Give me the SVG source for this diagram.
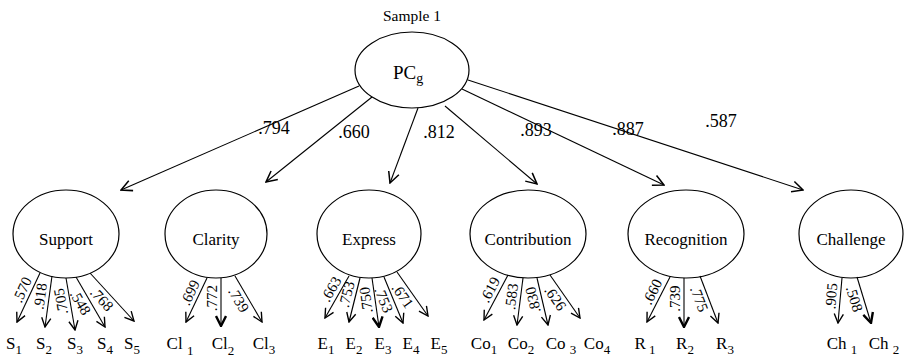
<svg xmlns="http://www.w3.org/2000/svg" width="919" height="360" viewBox="0 0 919 360" font-family="'Liberation Serif', 'Times New Roman', serif">
  <defs>
    <marker id="arr" viewBox="0 0 12 12" refX="11" refY="6" markerWidth="13" markerHeight="13" markerUnits="userSpaceOnUse" orient="auto">
      <path d="M1,1 L11,6 L1,11" fill="none" stroke="#000" stroke-width="1.4"/>
    </marker>
    <marker id="arrs" viewBox="0 0 12 12" refX="11" refY="6" markerWidth="11" markerHeight="11" markerUnits="userSpaceOnUse" orient="auto">
      <path d="M1,1 L11,6 L1,11" fill="none" stroke="#000" stroke-width="1.5"/>
    </marker>
    <marker id="arrb" viewBox="0 0 12 12" refX="11" refY="6" markerWidth="12" markerHeight="12" markerUnits="userSpaceOnUse" orient="auto">
      <path d="M1,1 L11,6 L1,11" fill="none" stroke="#000" stroke-width="2.4"/>
    </marker>
  </defs>
  <style>
    text { font-family: "Liberation Serif", "Times New Roman", serif; fill: #000; }
    .node ellipse { fill: #fff; stroke: #000; stroke-width: 1.2; }
    .name { font-size: 17px; text-anchor: middle; }
    .coef { font-size: 18px; text-anchor: middle; }
    .load { font-size: 15px; text-anchor: middle; dominant-baseline: central; }
    .ind { font-size: 17px; text-anchor: middle; }
    .sub { font-size: 13px; }
    #connectors line { stroke: #000; stroke-width: 1.1; fill: none; }
    .top { marker-end: url(#arr); }
    .low { marker-end: url(#arrs); }
    .bold { marker-end: url(#arrb); }
  </style>
  <rect width="919" height="360" fill="#fff"/>

  <text x="412" y="21" style="font-size:15.5px; text-anchor:middle">Sample 1</text>

  <!-- general factor -->
  <g id="PCg" class="node">
    <ellipse cx="412" cy="70" rx="57" ry="38"/>
    <text x="408" y="79" class="name" style="font-size:19px">PC<tspan class="sub" dy="4" style="font-size:14px">g</tspan></text>
  </g>

  <!-- first-order factors -->
  <g id="Support" class="node">
    <ellipse cx="66" cy="234" rx="53" ry="44"/>
    <text x="66" y="245" class="name">Support</text>
  </g>
  <g id="Clarity" class="node">
    <ellipse cx="216" cy="234" rx="51" ry="44"/>
    <text x="216" y="245" class="name">Clarity</text>
  </g>
  <g id="Express" class="node">
    <ellipse cx="369" cy="234" rx="52" ry="44"/>
    <text x="369" y="245" class="name">Express</text>
  </g>
  <g id="Contribution" class="node">
    <ellipse cx="528" cy="234" rx="58" ry="44"/>
    <text x="528" y="245" class="name">Contribution</text>
  </g>
  <g id="Recognition" class="node">
    <ellipse cx="686" cy="234" rx="58" ry="44"/>
    <text x="686" y="245" class="name">Recognition</text>
  </g>
  <g id="Challenge" class="node">
    <ellipse cx="851" cy="234" rx="52" ry="44"/>
    <text x="851" y="245" class="name">Challenge</text>
  </g>

  <!-- structural paths and indicator paths -->
  <g id="connectors">
    <line class="top" x1="359" y1="86" x2="121" y2="190"/>
    <line class="top" x1="372" y1="97" x2="266" y2="182"/>
    <line class="top" x1="418" y1="108" x2="390" y2="183"/>
    <line class="top" x1="445" y1="106" x2="537" y2="184"/>
    <line class="top" x1="462" y1="89" x2="664" y2="185"/>
    <line class="top" x1="468" y1="80" x2="803" y2="190"/>

    <line class="low" x1="40" y1="273" x2="17" y2="322"/>
    <line class="low" x1="52" y1="276" x2="45" y2="327"/>
    <line class="low" x1="66" y1="278" x2="75" y2="330"/>
    <line class="low" x1="76" y1="277" x2="105" y2="327"/>
    <line class="low" x1="90" y1="273" x2="134" y2="321"/>

    <line class="low" x1="207" y1="278" x2="186" y2="322"/>
    <line class="bold" x1="221" y1="278" x2="221" y2="326"/>
    <line class="low" x1="235" y1="276" x2="262" y2="322"/>

    <line class="low" x1="349" y1="276" x2="325" y2="318"/>
    <line class="low" x1="360" y1="278" x2="349" y2="322"/>
    <line class="bold" x1="372" y1="278" x2="379" y2="327"/>
    <line class="low" x1="384" y1="277" x2="403" y2="323"/>
    <line class="low" x1="397" y1="272" x2="428" y2="316"/>

    <line class="low" x1="508" y1="275" x2="484" y2="320"/>
    <line class="low" x1="523" y1="278" x2="517" y2="325"/>
    <line class="low" x1="537" y1="278" x2="548" y2="325"/>
    <line class="low" x1="550" y1="275" x2="580" y2="318"/>

    <line class="low" x1="670" y1="277" x2="647" y2="322"/>
    <line class="bold" x1="684" y1="278" x2="684" y2="327"/>
    <line class="low" x1="700" y1="276" x2="718" y2="323"/>

    <line class="low" x1="842" y1="278" x2="838" y2="323"/>
    <line class="bold" x1="857" y1="277" x2="871" y2="323"/>
  </g>

  <!-- second-order loadings -->
  <g id="coefficients">
    <text x="274" y="134" class="coef">.794</text>
    <text x="354" y="138" class="coef">.660</text>
    <text x="439" y="138" class="coef">.812</text>
    <text x="536" y="136" class="coef">.893</text>
    <text x="628" y="135" class="coef">.887</text>
    <text x="721" y="127" class="coef">.587</text>
  </g>

  <!-- first-order loadings -->
  <g id="loadings">
    <text class="load" transform="translate(22.2,289.8) rotate(-64.9)">.570</text>
    <text class="load" transform="translate(40.2,296.2) rotate(-82.2)">.918</text>
    <text class="load" transform="translate(60.9,301.3) rotate(-99.8)">.705</text>
    <text class="load" transform="translate(80.4,302.5) rotate(59.9)">.548</text>
    <text class="load" transform="translate(101.8,299.3) rotate(47.5)">.768</text>

    <text class="load" transform="translate(190.1,292.6) rotate(-64.5)">.699</text>
    <text class="load" transform="translate(212,298.2) rotate(-90)">.772</text>
    <text class="load" transform="translate(238.6,299.8) rotate(59.6)">.739</text>

    <text class="load" transform="translate(331.1,289.1) rotate(-60.3)">.663</text>
    <text class="load" transform="translate(346.7,294.3) rotate(-76)">.753</text>
    <text class="load" transform="translate(366,299.9) rotate(-98.1)">.750</text>
    <text class="load" transform="translate(383.7,299.8) rotate(67.6)">.753</text>
    <text class="load" transform="translate(402.7,295.7) rotate(54.8)">.671</text>

    <text class="load" transform="translate(489.9,289.7) rotate(-61.9)">.619</text>
    <text class="load" transform="translate(511.6,296.5) rotate(-82.7)">.583</text>
    <text class="load" transform="translate(532.9,299.8) rotate(-103.2)">.830</text>
    <text class="load" transform="translate(555.3,298.2) rotate(55.1)">.626</text>

    <text class="load" transform="translate(652.3,291.8) rotate(-62.9)">.660</text>
    <text class="load" transform="translate(675,298.6) rotate(-90)">.739</text>
    <text class="load" transform="translate(699.2,298.9) rotate(69)">.775</text>

    <text class="load" transform="translate(831.3,296.1) rotate(-85)">.905</text>
    <text class="load" transform="translate(854.3,298.9) rotate(73.1)">.508</text>
  </g>

  <!-- observed indicators -->
  <g id="indicators">
    <text x="14" y="349" class="ind">S<tspan class="sub" dy="5">1</tspan></text>
    <text x="44" y="349" class="ind">S<tspan class="sub" dy="5">2</tspan></text>
    <text x="75" y="349" class="ind">S<tspan class="sub" dy="5">3</tspan></text>
    <text x="105" y="349" class="ind">S<tspan class="sub" dy="5">4</tspan></text>
    <text x="132" y="349" class="ind">S<tspan class="sub" dy="5">5</tspan></text>

    <text x="180" y="349" class="ind">Cl <tspan class="sub" dy="6">1</tspan></text>
    <text x="223" y="349" class="ind">Cl<tspan class="sub" dy="6">2</tspan></text>
    <text x="264" y="349" class="ind">Cl<tspan class="sub" dy="5">3</tspan></text>

    <text x="326" y="349" class="ind">E<tspan class="sub" dy="5">1</tspan></text>
    <text x="354" y="349" class="ind">E<tspan class="sub" dy="5">2</tspan></text>
    <text x="383" y="349" class="ind">E<tspan class="sub" dy="5">3</tspan></text>
    <text x="411" y="349" class="ind">E<tspan class="sub" dy="5">4</tspan></text>
    <text x="439" y="349" class="ind">E<tspan class="sub" dy="5">5</tspan></text>

    <text x="484" y="349" class="ind">Co<tspan class="sub" dy="5">1</tspan></text>
    <text x="521" y="349" class="ind">Co<tspan class="sub" dy="5">2</tspan></text>
    <text x="561" y="349" class="ind">Co <tspan class="sub" dy="5">3</tspan></text>
    <text x="597" y="349" class="ind">Co<tspan class="sub" dy="5">4</tspan></text>

    <text x="645" y="349" class="ind">R<tspan class="sub" dy="5"> 1</tspan></text>
    <text x="685" y="349" class="ind">R<tspan class="sub" dy="5">2</tspan></text>
    <text x="725" y="349" class="ind">R<tspan class="sub" dy="5">3</tspan></text>

    <text x="842" y="349" class="ind">Ch <tspan class="sub" dy="5">1</tspan></text>
    <text x="884" y="349" class="ind">Ch  <tspan class="sub" dy="5">2</tspan></text>
  </g>
</svg>
